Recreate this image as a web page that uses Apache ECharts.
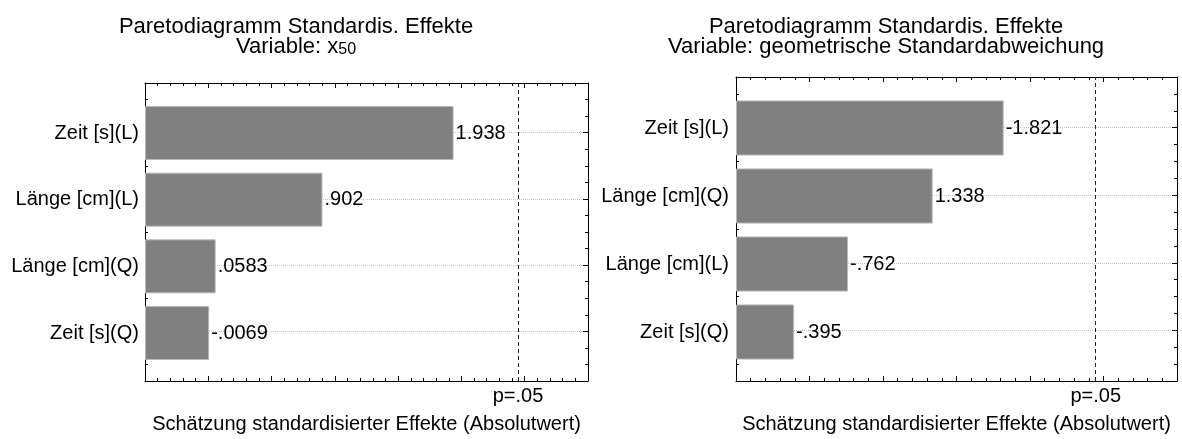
<!DOCTYPE html>
<html>
<head>
<meta charset="utf-8">
<script src="https://cdn.jsdelivr.net/npm/echarts@6/dist/echarts.min.js"></script>
<style>
  html, body { margin: 0; padding: 0; background: #fff; }
  #chart { width: 1182px; height: 439px; }
</style>
</head>
<body>
<div id="chart"></div>
<script>
// Standardised effects, sorted by absolute size (largest on top)
const factorsX50 = ['Zeit [s](L)', 'Länge [cm](L)', 'Länge [cm](Q)', 'Zeit [s](Q)'];
const effectsX50 = [1.938, 0.902, 0.0583, -0.0069];

const factorsGsd = ['Zeit [s](L)', 'Länge [cm](Q)', 'Länge [cm](L)', 'Zeit [s](Q)'];
const effectsGsd = [-1.821, 1.338, -0.762, -0.395];

// critical t value for p = .05
const criticalT = 2.447;
const pLabel = 'p=.05';

const titleMain = 'Paretodiagramm Standardis. Effekte';
const variableX50 = ['Variable: x', '50'];
const variableGsd = 'Variable: geometrische Standardabweichung';
const axisTitle = 'Schätzung standardisierter Effekte (Absolutwert)';

const FONT = '"Liberation Sans", Arial, Helvetica, sans-serif';

// ".902" style numbers (no leading zero)
function fmt(v) {
  return String(v).replace(/^(-?)0\./, '$1.');
}

const panels = [
  { factors: factorsX50, effects: effectsX50, xMin: -0.5, xMax: 3,
    left: 145, right: 588, top: 83, bottom: 383, labelMargin: 6, cx: 296 },
  { factors: factorsGsd, effects: effectsGsd, xMin: 0, xMax: 3,
    left: 736, right: 1177, top: 77, bottom: 383, labelMargin: 7, cx: 886 }
];

const W = 1182, H = 439;
const Y_MIN = 0.25, Y_MAX = 4.75;   // category centres sit at 1..4

const grid = [], xAxis = [], yAxis = [], series = [];

panels.forEach(function (p) {
  const frameGrid = grid.length;
  grid.push({ left: p.left, right: W - p.right, top: p.top, bottom: H - p.bottom, containLabel: false });
  const unit = (p.bottom - p.top) / (Y_MAX - Y_MIN);
  const innerGrid = grid.length;
  grid.push({
    left: p.left, right: W - p.right,
    top: p.top + (1 - Y_MIN - 0.5) * unit,
    height: p.factors.length * unit,
    containLabel: false
  });

  const tickLine = { color: '#000', width: 1 };
  const frameX = function (pos, withName) {
    const ax = {
      type: 'value', gridIndex: frameGrid, position: pos,
      min: p.xMin, max: p.xMax, interval: 0.5,
      axisLine: { show: true, onZero: false, lineStyle: tickLine },
      axisTick: { show: true, inside: true, length: 5, lineStyle: tickLine },
      minorTick: { show: true, splitNumber: 5, length: 3, lineStyle: tickLine },
      axisLabel: { show: false },
      splitLine: { show: false }
    };
    if (withName) {
      ax.name = axisTitle;
      ax.nameLocation = 'middle';
      ax.nameGap = 33;
      ax.nameTextStyle = { fontFamily: FONT, fontSize: 20, color: '#000', lineHeight: 20 };
    }
    return ax;
  };
  const frameY = function (pos, withGrid) {
    return {
      type: 'value', gridIndex: frameGrid, position: pos,
      min: Y_MIN, max: Y_MAX,
      axisLine: { show: true, onZero: false, lineStyle: tickLine },
      axisTick: { show: true, inside: true, length: 5, lineStyle: tickLine },
      minorTick: { show: true, splitNumber: 4, length: 3, lineStyle: tickLine },
      axisLabel: { show: false },
      splitLine: { show: withGrid, lineStyle: { color: '#c4c4c4', type: 'dotted', width: 1 } }
    };
  };

  const xBottom = xAxis.length; xAxis.push(frameX('bottom', true));
  xAxis.push(frameX('top', false));
  const yLeft = yAxis.length; yAxis.push(frameY('left', true));
  yAxis.push(frameY('right', false));

  const xInner = xAxis.length;
  xAxis.push({ type: 'value', gridIndex: innerGrid, min: p.xMin, max: p.xMax, startValue: p.xMin, show: false });
  const yInner = yAxis.length;
  yAxis.push({
    type: 'category', gridIndex: innerGrid, data: p.factors, inverse: true,
    axisLine: { show: false }, axisTick: { show: false }, splitLine: { show: false },
    axisLabel: { fontFamily: FONT, fontSize: 20, color: '#000', margin: p.labelMargin }
  });

  // bars: absolute effect size, label shows the signed estimate
  series.push({
    type: 'bar', xAxisIndex: xInner, yAxisIndex: yInner,
    data: p.effects.map(function (v) { return Math.abs(v); }),
    barCategoryGap: '19%',
    itemStyle: { color: '#808080', borderColor: '#b8b8b8', borderWidth: 1 },
    label: {
      show: true, position: 'right', distance: 2,
      fontFamily: FONT, fontSize: 20, color: '#000',
      formatter: function (prm) { return fmt(p.effects[prm.dataIndex]); }
    },
    silent: true
  });

  // significance limit
  series.push({
    type: 'line', xAxisIndex: xBottom, yAxisIndex: yLeft, data: [],
    markLine: {
      silent: true, symbol: ['none', 'none'],
      lineStyle: { type: [4, 3], color: '#222', width: 1 },
      label: { show: true, position: 'start', distance: 5, formatter: pLabel,
               fontFamily: FONT, fontSize: 20, color: '#000' },
      data: [[{ coord: [criticalT, Y_MIN] }, { coord: [criticalT, Y_MAX] }]]
    }
  });
});

const titleStyle = { fontFamily: FONT, fontSize: 22, fontWeight: 'normal', color: '#000', lineHeight: 22 };
const title = [
  { text: titleMain, left: panels[0].cx, top: 16, textAlign: 'center', padding: 0, textStyle: titleStyle },
  { text: '{n|' + variableX50[0] + '}{s|' + variableX50[1] + '}', left: panels[0].cx, top: 36,
    textAlign: 'center', padding: 0,
    textStyle: Object.assign({}, titleStyle, {
      rich: {
        n: { fontFamily: FONT, fontSize: 22, color: '#000', lineHeight: 22, align: 'center' },
        s: { fontFamily: FONT, fontSize: 16, color: '#000', lineHeight: 4, verticalAlign: 'bottom', align: 'center' }
      }
    }) },
  { text: titleMain, left: panels[1].cx, top: 16, textAlign: 'center', padding: 0, textStyle: titleStyle },
  { text: variableGsd, left: panels[1].cx, top: 36, textAlign: 'center', padding: 0, textStyle: titleStyle }
];

const chart = echarts.init(document.getElementById('chart'), null, { renderer: 'canvas' });
chart.setOption({
  animation: false,
  backgroundColor: '#fff',
  textStyle: { fontFamily: FONT },
  title: title,
  grid: grid,
  xAxis: xAxis,
  yAxis: yAxis,
  series: series
});
</script>
</body>
</html>
